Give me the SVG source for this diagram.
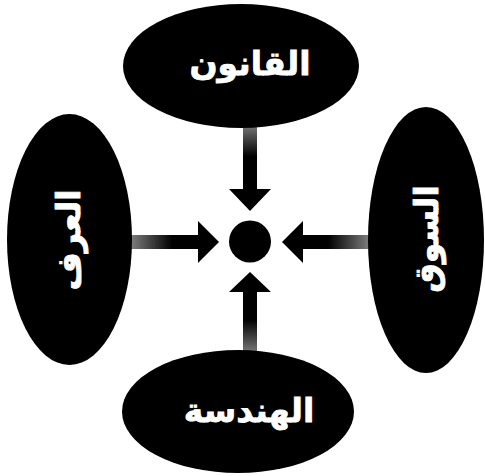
<svg xmlns="http://www.w3.org/2000/svg" width="485" height="476" viewBox="0 0 485 476">
<style>
.node{fill:#000}
.lbl{fill:#fff;stroke:#fff;stroke-width:0.8;font-family:"DejaVu Sans",sans-serif;font-weight:bold;font-size:33px;text-anchor:middle}
</style>
<defs>
<linearGradient id="gL" x1="0" y1="0" x2="1" y2="0"><stop offset="0" stop-color="#8c8c8c"/><stop offset="0.5" stop-color="#000"/></linearGradient>
<linearGradient id="gR" x1="1" y1="0" x2="0" y2="0"><stop offset="0" stop-color="#8c8c8c"/><stop offset="0.5" stop-color="#000"/></linearGradient>
<linearGradient id="gT" x1="0" y1="0" x2="0" y2="1"><stop offset="0" stop-color="#8c8c8c"/><stop offset="0.4" stop-color="#000"/></linearGradient>
<linearGradient id="gB" x1="0" y1="1" x2="0" y2="0"><stop offset="0" stop-color="#8c8c8c"/><stop offset="0.45" stop-color="#000"/></linearGradient>
</defs>
<rect width="485" height="476" fill="#fff"/>
<g id="connectors">
<polygon fill="url(#gT)" points="243,120 257,120 257,189 271,189 250,211 229,189 243,189"/>
<polygon fill="url(#gB)" points="243,358 257,358 257,292 271,292 250,272 229,292 243,292"/>
<polygon fill="url(#gL)" points="126,235 198,235 198,221 219,242 198,263 198,249 126,249"/>
<polygon fill="url(#gR)" points="374,235 303,235 303,221 282,242 303,263 303,249 374,249"/>
</g>
<g id="center"><circle class="node" cx="250" cy="241.5" r="21"/></g>
<g id="qanun"><ellipse class="node" cx="241" cy="66" rx="118" ry="62"/><text class="lbl" x="250" y="75">القانون</text></g>
<g id="handasa"><ellipse class="node" cx="238" cy="411.5" rx="116" ry="61.5"/><text class="lbl" x="249" y="422">الهندسة</text></g>
<g id="urf"><ellipse class="node" cx="69.5" cy="239.5" rx="62.5" ry="125.5"/><text class="lbl" transform="translate(80,240) rotate(-90)" x="0" y="0">العرف</text></g>
<g id="suq"><ellipse class="node" cx="426" cy="240" rx="58" ry="133"/><text class="lbl" transform="translate(438,239) rotate(-90)" x="0" y="0">السوق</text></g>
</svg>
